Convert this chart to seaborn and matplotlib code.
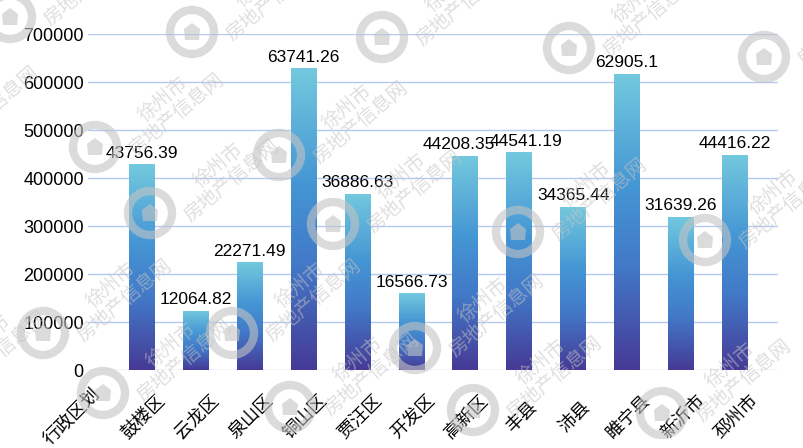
import numpy as np
import pandas as pd
import seaborn as sns
import matplotlib.pyplot as plt
from matplotlib.colors import LinearSegmentedColormap
from matplotlib.patches import Circle, Polygon
from matplotlib.transforms import ScaledTranslation

# data
districts = ['行政区划', '鼓楼区', '云龙区', '泉山区', '铜山区', '贾汪区', '开发区',
             '高新区', '丰县', '沛县', '睢宁县', '新沂市', '邳州市']
bar_values = [0, 429000, 123000, 225000, 629000, 367000, 160000,
              446000, 454000, 340000, 617000, 319000, 448000]
bar_labels = ['', '43756.39', '12064.82', '22271.49', '63741.26', '36886.63', '16566.73',
              '44208.35', '44541.19', '34365.44', '62905.1', '31639.26', '44416.22']
y_ticks = [0, 100000, 200000, 300000, 400000, 500000, 600000, 700000]

# small horizontal nudges (px) for labels that would collide
label_nudge = [0, 0, 0, 0, 0, 0, 0, -7, 7, 0, 0, 0, 0]
tick_nudge = [-18, 0, 0, 0, 0, 0, 0, 0, 0, 0, 0, 0, 0]

# watermark rings (figure pixels)
wm_rings = [(10, 17), (192, 32), (382, 37), (569, 48), (764, 57),
            (-90, 140), (95, 147), (279, 155),
            (150, 213), (333, 224), (518, 232), (705, 240),
            (43, 333), (232, 333), (415, 348),
            (-82, 385), (103, 393), (290, 407), (473, 410), (662, 413)]

sns.set_style('white')
plt.rcParams['font.family'] = ['Liberation Sans', 'Noto Sans CJK SC']
plt.rcParams['axes.unicode_minus'] = False

fig = plt.figure(figsize=(8.04, 4.48), dpi=100)
ax = fig.add_axes([88 / 804, 78 / 448, 690 / 804, 336 / 448])

df = pd.DataFrame({'district': districts, 'value': bar_values})
sns.barplot(data=df, x='district', y='value', color='#4495d4', width=0.48,
            linewidth=0, ax=ax)

# vertical gradient on every bar: cyan on top, indigo at the bottom
cmap = LinearSegmentedColormap.from_list(
    'bar', [(0, '#463a96'), (0.35, '#4279c8'), (0.62, '#4596d4'), (1, '#73c9de')])
grad = np.linspace(0, 1, 256).reshape(-1, 1)
for p in list(ax.patches):
    h = p.get_height()
    if not h or h <= 0:
        continue
    x0, w = p.get_x(), p.get_width()
    im = ax.imshow(grad, cmap=cmap, origin='lower', aspect='auto',
                   extent=[x0, x0 + w, 0, h], zorder=2)
    im.set_clip_path(p)
    p.set_facecolor('none')

ax.set_xlim(0.12, 12.8)
ax.set_ylim(0, 700000)

for i, (v, lab) in enumerate(zip(bar_values, bar_labels)):
    if lab:
        ax.annotate(lab, (i, v), xytext=(label_nudge[i] * 0.72, 2.5),
                    textcoords='offset points', ha='center', va='bottom',
                    fontsize=12.5, color='black', zorder=4)

ax.set_axisbelow(True)
ax.yaxis.grid(True, color='#b4c9ef', lw=1)
ax.xaxis.grid(False)
for s in ax.spines.values():
    s.set_visible(False)

ax.set_yticks(y_ticks)
ax.set_yticklabels([str(v) for v in y_ticks])
ax.tick_params(axis='y', length=0, pad=3, labelsize=13, labelcolor='black')
ax.set_xticks(range(len(districts)))
ax.set_xticklabels(districts, rotation=45, ha='center', va='center',
                   rotation_mode='anchor')
ax.tick_params(axis='x', length=0, pad=0, labelsize=13, labelcolor='black')
for lbl, dx in zip(ax.get_xticklabels(), tick_nudge):
    shift = ScaledTranslation((2 + dx) / 100, -47 / 100, fig.dpi_scale_trans)
    lbl.set_transform(lbl.get_transform() + shift)
ax.set_xlabel('')
ax.set_ylabel('')

# watermark overlay
wm = fig.add_axes([0, 0, 1, 1], zorder=5)
wm.set_xlim(0, 804)
wm.set_ylim(448, 0)
wm.axis('off')
wm.patch.set_alpha(0)
house = np.array([(0, -9), (8, -3), (7, 8), (-7, 8), (-8, -3)])
for rx, ry in wm_rings:
    wm.add_patch(Circle((rx, ry), 22, fill=False, lw=6, ec='#c4c4c4', alpha=0.6))
    wm.add_patch(Polygon(house + (rx, ry), closed=True, fc='#c4c4c4', ec='none', alpha=0.6))
    wm.text(rx + 75, ry - 40, '徐州市\n房地产信息网', rotation=40, fontsize=14,
            color='#c4c4c4', alpha=0.55, ha='center', va='center',
            family=['Noto Sans CJK SC'], linespacing=0.95)

fig.savefig('out.png', dpi=100)
